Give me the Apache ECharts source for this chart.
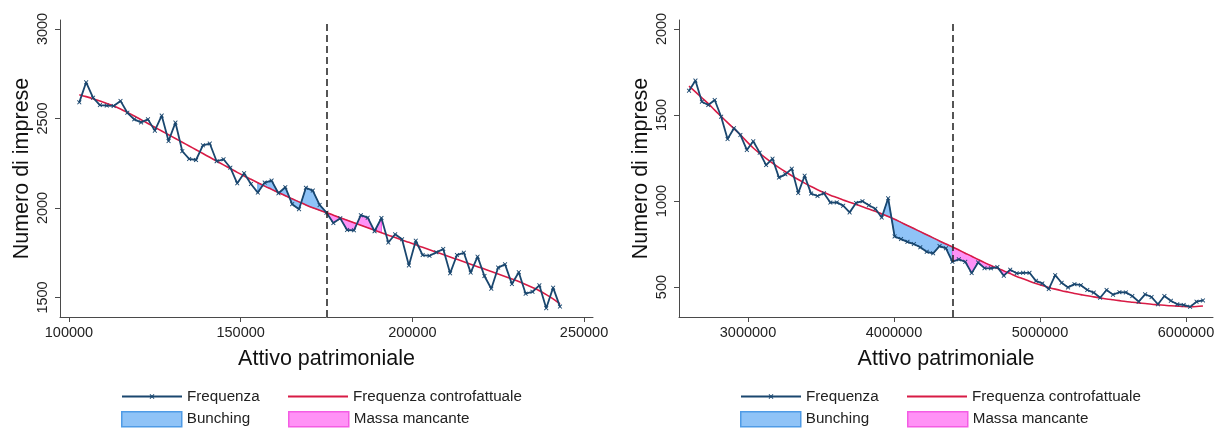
<!DOCTYPE html>
<html>
<head>
<meta charset="utf-8">
<script src="https://cdn.jsdelivr.net/npm/echarts@6/dist/echarts.min.js"></script>
<style>
  html, body { margin: 0; padding: 0; background: #ffffff; }
  #chart { width: 1224px; height: 445px; }
</style>
</head>
<body>
<div id="chart"></div>
<script>
// ---- Left panel: small firms (bins of 2000) ----
const leftAssets = [
  103000, 105000, 107000, 109000, 111000, 113000, 115000, 117000, 119000, 121000,
  123000, 125000, 127000, 129000, 131000, 133000, 135000, 137000, 139000, 141000,
  143000, 145000, 147000, 149000, 151000, 153000, 155000, 157000, 159000, 161000,
  163000, 165000, 167000, 169000, 171000, 173000, 175000, 177000, 179000, 181000,
  183000, 185000, 187000, 189000, 191000, 193000, 195000, 197000, 199000, 201000,
  203000, 205000, 207000, 209000, 211000, 213000, 215000, 217000, 219000, 221000,
  223000, 225000, 227000, 229000, 231000, 233000, 235000, 237000, 239000, 241000,
  243000
];
const leftFreq = [
  2590, 2702, 2616, 2575, 2572, 2570, 2598, 2532, 2495, 2478,
  2495, 2432, 2516, 2374, 2477, 2317, 2274, 2268, 2350, 2360,
  2261, 2272, 2225, 2138, 2194, 2134, 2086, 2142, 2153, 2082,
  2116, 2021, 1993, 2113, 2097, 2017, 1974, 1916, 1942, 1877,
  1875, 1960, 1946, 1870, 1944, 1807, 1853, 1825, 1679, 1817,
  1737, 1733, 1752, 1771, 1635, 1737, 1750, 1639, 1728, 1620,
  1549, 1667, 1685, 1575, 1641, 1521, 1532, 1568, 1440, 1555,
  1449
];
const leftCounterfactual = [
  2633, 2622, 2610, 2597, 2584, 2570, 2553, 2534, 2514, 2493,
  2472, 2451, 2430, 2409, 2388, 2367, 2346, 2325, 2304, 2283,
  2262, 2241, 2220, 2199, 2179, 2160, 2141, 2122, 2104, 2086,
  2068, 2051, 2034, 2017, 2001, 1987, 1974, 1960, 1946, 1932,
  1918, 1904, 1890, 1876, 1862, 1848, 1835, 1821, 1808, 1794,
  1780, 1767, 1753, 1740, 1726, 1713, 1699, 1686, 1672, 1659,
  1645, 1631, 1617, 1603, 1589, 1573, 1556, 1538, 1516, 1492,
  1464
];
const leftXTicks = [100000, 150000, 200000, 250000];
const leftYTicks = [1500, 2000, 2500, 3000];
const leftThreshold = 175000;
const leftBunchingRange = [155000, 175000];
const leftMissingRange = [175000, 191000];

// ---- Right panel: larger firms (bins of 44000) ----
const rightAssets = [
  2596000, 2640000, 2684000, 2728000, 2772000, 2816000, 2860000, 2904000, 2948000, 2992000,
  3036000, 3080000, 3124000, 3168000, 3212000, 3256000, 3300000, 3344000, 3388000, 3432000,
  3476000, 3520000, 3564000, 3608000, 3652000, 3696000, 3740000, 3784000, 3828000, 3872000,
  3916000, 3960000, 4004000, 4048000, 4092000, 4136000, 4180000, 4224000, 4268000, 4312000,
  4356000, 4400000, 4444000, 4488000, 4532000, 4576000, 4620000, 4664000, 4708000, 4752000,
  4796000, 4840000, 4884000, 4928000, 4972000, 5016000, 5060000, 5104000, 5148000, 5192000,
  5236000, 5280000, 5324000, 5368000, 5412000, 5456000, 5500000, 5544000, 5588000, 5632000,
  5676000, 5720000, 5764000, 5808000, 5852000, 5896000, 5940000, 5984000, 6028000, 6072000,
  6116000
];
const rightFreq = [
  1641, 1700, 1577, 1558, 1587, 1490, 1360, 1423, 1384, 1297,
  1347, 1281, 1209, 1246, 1136, 1155, 1188, 1046, 1147, 1043,
  1029, 1045, 991, 992, 973, 934, 989, 999, 975, 955,
  904, 1016, 794, 779, 763, 750, 731, 705, 696, 738,
  725, 647, 661, 647, 581, 643, 610, 609, 616, 566,
  601, 580, 583, 583, 536, 521, 488, 569, 525, 498,
  517, 511, 483, 468, 438, 483, 456, 470, 469, 448,
  415, 458, 442, 400, 448, 420, 400, 396, 385, 415,
  422
];
const rightCounterfactual = [
  1668, 1634, 1600, 1566, 1528, 1492, 1456, 1420, 1385, 1345,
  1308, 1277, 1248, 1220, 1194, 1170, 1147, 1125, 1104, 1084,
  1066, 1049, 1034, 1020, 1006, 993, 980, 967, 954, 940,
  925, 910, 894, 876, 858, 840, 822, 804, 786, 768,
  750, 733, 715, 697, 679, 660, 642, 625, 609, 594,
  578, 562, 548, 534, 521, 509, 498, 488, 479, 471,
  463, 456, 449, 443, 437, 431, 426, 421, 416, 412,
  408, 404, 400, 397, 394, 391, 389, 387, 386, 387,
  390
];
const rightXTicks = [3000000, 4000000, 5000000, 6000000];
const rightYTicks = [500, 1000, 1500, 2000];
const rightThreshold = 4400000;
const rightBunchingRange = [3916000, 4400000];
const rightMissingRange = [4400000, 4796000];

// ---- Styling ----
const FONT = '"Liberation Sans", Arial, Helvetica, sans-serif';
const NAVY = '#1a476f';
const RED = '#d81b45';
const BLUE_FILL = '#8fc3f7';
const BLUE_EDGE = '#4f9be6';
const PINK_FILL = '#ff92f6';
const PINK_EDGE = '#f45de4';
const AXIS_COLOR = '#4a4a4a';
const X_MARK = 'path://M0,1.4L1.4,0L5,3.6L8.6,0L10,1.4L6.4,5L10,8.6L8.6,10L5,6.4L1.4,10L0,8.6L3.6,5Z';

const zip = (xs, ys) => xs.map((x, i) => [x, ys[i]]);

// Area enclosed between observed frequency and counterfactual over a range of bins
function bandSeries(name, xs, ys, cf, range, fill, edge, axisIndex) {
  const i0 = xs.indexOf(range[0]);
  const i1 = xs.indexOf(range[1]);
  const outline = [];
  for (let i = i0; i <= i1; i++) outline.push([xs[i], ys[i]]);
  for (let i = i1; i >= i0; i--) outline.push([xs[i], cf[i]]);
  return {
    type: 'custom',
    name: name,
    xAxisIndex: axisIndex,
    yAxisIndex: axisIndex,
    data: outline,
    encode: { x: 0, y: 1 },
    clip: true,
    silent: true,
    z: 1,
    itemStyle: { color: fill, borderColor: edge, borderWidth: 1 },
    renderItem: function (params, api) {
      if (params.dataIndex !== 0) return null;
      return {
        type: 'polygon',
        shape: { points: outline.map(p => api.coord(p)) },
        style: { fill: fill, stroke: edge, lineWidth: 1 }
      };
    }
  };
}

function freqSeries(xs, ys, threshold, axisIndex) {
  return {
    type: 'line',
    name: 'Frequenza',
    xAxisIndex: axisIndex,
    yAxisIndex: axisIndex,
    data: zip(xs, ys),
    symbol: X_MARK,
    symbolSize: 4.5,
    showSymbol: true,
    itemStyle: { color: NAVY },
    lineStyle: { color: NAVY, width: 1.8 },
    z: 4,
    markLine: {
      silent: true,
      symbol: ['none', 'none'],
      label: { show: false },
      lineStyle: { color: '#2b2b2b', type: [7, 4], width: 1.6 },
      data: [{ xAxis: threshold }]
    }
  };
}

function cfSeries(xs, ys, axisIndex) {
  return {
    type: 'line',
    name: 'Frequenza controfattuale',
    xAxisIndex: axisIndex,
    yAxisIndex: axisIndex,
    data: zip(xs, ys),
    smooth: 0.3,
    showSymbol: false,
    symbol: 'none',
    itemStyle: { color: RED },
    lineStyle: { color: RED, width: 1.6 },
    z: 3
  };
}

function xAxisCfg(gridIndex, min, max, ticks) {
  return {
    type: 'value', gridIndex: gridIndex, min: min, max: max,
    name: 'Attivo patrimoniale', nameLocation: 'middle', nameGap: 31,
    nameTextStyle: { fontFamily: FONT, fontSize: 21.5, color: '#111' },
    axisLine: { show: true, lineStyle: { color: AXIS_COLOR, width: 1 } },
    axisTick: { show: true, length: 5, customValues: ticks, lineStyle: { color: AXIS_COLOR } },
    axisLabel: { customValues: ticks, margin: 8, fontFamily: FONT, fontSize: 14.5, color: '#222',
                 formatter: v => String(v) },
    splitLine: { show: false }
  };
}

function yAxisCfg(gridIndex, min, max, ticks) {
  return {
    type: 'value', gridIndex: gridIndex, min: min, max: max,
    name: 'Numero di imprese', nameLocation: 'middle', nameGap: 27,
    nameTextStyle: { fontFamily: FONT, fontSize: 21.5, color: '#111' },
    axisLine: { show: true, lineStyle: { color: AXIS_COLOR, width: 1 } },
    axisTick: { show: true, length: 5, customValues: ticks, lineStyle: { color: AXIS_COLOR } },
    axisLabel: { customValues: ticks, rotate: 90, margin: 10, fontFamily: FONT, fontSize: 14.5,
                 color: '#222', formatter: v => String(v) },
    splitLine: { show: false }
  };
}

// One legend block per key, laid out as a 2x2 table under each panel
function legendKey(name, left, top, h, item) {
  return {
    data: [Object.assign({ name: name }, item || {})],
    left: left, top: top, orient: 'horizontal', padding: 0,
    itemWidth: 60, itemHeight: h,
    selectedMode: false,
    textStyle: { fontFamily: FONT, fontSize: 15.2, color: '#222' }
  };
}

function panelLegends(offset) {
  const c1 = 121 + offset, c2 = 288 + offset;
  return [
    legendKey('Frequenza', c1, 389, 6),
    legendKey('Frequenza controfattuale', c2, 389, 2,
      { icon: 'rect', itemStyle: { color: RED, borderWidth: 0 } }),
    legendKey('Bunching', c1, 411, 15,
      { icon: 'rect', itemStyle: { color: BLUE_FILL, borderColor: BLUE_EDGE, borderWidth: 1.5 } }),
    legendKey('Massa mancante', c2, 411, 15,
      { icon: 'rect', itemStyle: { color: PINK_FILL, borderColor: PINK_EDGE, borderWidth: 1.5 } })
  ];
}

const chart = echarts.init(document.getElementById('chart'), null, { renderer: 'canvas' });
chart.setOption({
  backgroundColor: '#ffffff',
  animation: false,
  textStyle: { fontFamily: FONT },
  grid: [
    { left: 60, top: 20, width: 533, height: 297 },
    { left: 679, top: 20, width: 534, height: 297 }
  ],
  xAxis: [
    xAxisCfg(0, 97380, 252620, leftXTicks),
    xAxisCfg(1, 2527400, 6184900, rightXTicks)
  ],
  yAxis: [
    yAxisCfg(0, 1391, 3050, leftYTicks),
    yAxisCfg(1, 326, 2052, rightYTicks)
  ],
  legend: panelLegends(0).concat(panelLegends(619)),
  series: [
    bandSeries('Bunching', leftAssets, leftFreq, leftCounterfactual, leftBunchingRange, BLUE_FILL, BLUE_EDGE, 0),
    bandSeries('Massa mancante', leftAssets, leftFreq, leftCounterfactual, leftMissingRange, PINK_FILL, PINK_EDGE, 0),
    cfSeries(leftAssets, leftCounterfactual, 0),
    freqSeries(leftAssets, leftFreq, leftThreshold, 0),
    bandSeries('Bunching', rightAssets, rightFreq, rightCounterfactual, rightBunchingRange, BLUE_FILL, BLUE_EDGE, 1),
    bandSeries('Massa mancante', rightAssets, rightFreq, rightCounterfactual, rightMissingRange, PINK_FILL, PINK_EDGE, 1),
    cfSeries(rightAssets, rightCounterfactual, 1),
    freqSeries(rightAssets, rightFreq, rightThreshold, 1)
  ]
});
</script>
</body>
</html>
